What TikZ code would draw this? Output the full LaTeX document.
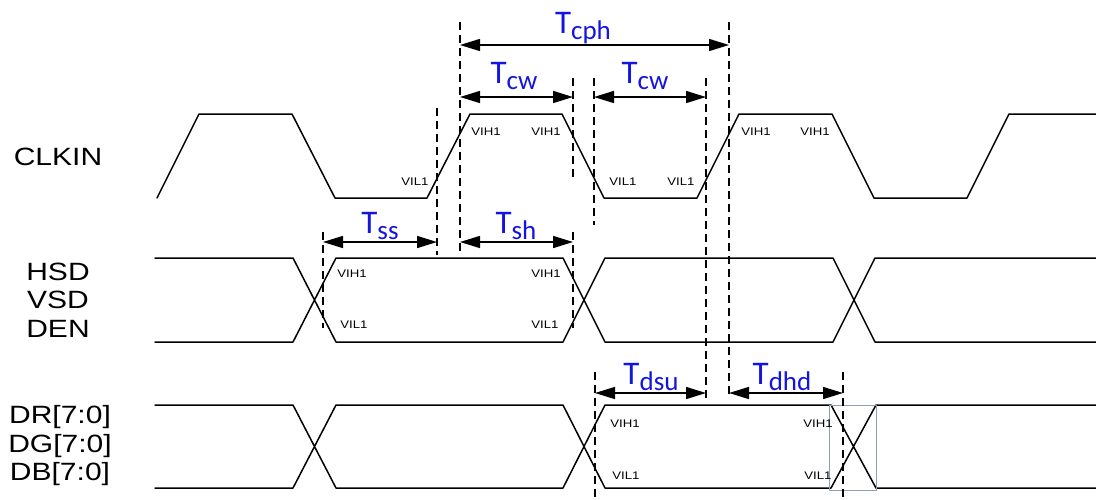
\documentclass[tikz,border=0pt]{standalone}
\usepackage{fontspec}
\setmainfont{Liberation Sans}[FakeStretch=1.2]
\newfontfamily\tfont{Carlito}
\usetikzlibrary{arrows.meta}
\definecolor{tblue}{RGB}{20,20,225}
\definecolor{boxgray}{RGB}{140,160,180}
\newcommand{\Tlab}[1]{{\fontsize{33}{33}\selectfont T}\raisebox{-6pt}{\fontsize{27}{27}\selectfont #1}}
\begin{document}
\begin{tikzpicture}[x=1pt, y=-1pt, line join=round, line cap=round, >={Triangle[length=20pt,width=12pt]}]
	\tikzset{wave/.style={line width=1.5pt}, guide/.style={line width=1.3pt, line cap=butt, dash pattern=on 8pt off 5pt}, dim/.style={<->, line width=1.5pt}, sig/.style={anchor=base, inner sep=0pt, font=\fontsize{25}{25}\selectfont}, lvl/.style={anchor=base, inner sep=0pt, font=\fontsize{11}{11}\selectfont}, tlab/.style={anchor=base, inner sep=0pt, text=tblue, font=\tfont}}
	\useasboundingbox (0,0) rectangle (1096,499);
	\def\ch{114}\def\cl{198}\def\sh{258}\def\sl{342}\def\dh{405}\def\dl{488}
	% signal names
	\node[sig] (clk) at (58,165) {CLKIN};
	\node[sig] (hsd) at (58,280) {HSD};
	\node[sig] (vsd) at (58,308) {VSD};
	\node[sig] (den) at (58,337) {DEN};
	\node[sig] (dr) at (60,423) {DR[7:0]};
	\node[sig] (dg) at (60,452) {DG[7:0]};
	\node[sig] (db) at (60,480) {DB[7:0]};
	% waveforms
	\draw[wave] (157,\cl)--(199,\ch)--(292,\ch)--(335,\cl)--(427,\cl)--(470,\ch)--(562,\ch)--(604,\cl)--(697,\cl)--(739,\ch)--(832,\ch)--(874,\cl)--(967,\cl)--(1009,\ch)--(1096,\ch);
	\draw[wave] (155,\sh)--(293,\sh)--(336,\sl)--(563,\sl)--(605,\sh)--(833,\sh)--(875,\sl)--(1096,\sl)
		(155,\sl)--(293,\sl)--(336,\sh)--(563,\sh)--(605,\sl)--(833,\sl)--(875,\sh)--(1096,\sh);
	\draw[wave] (155,\dh)--(293,\dh)--(336,\dl)--(563,\dl)--(605,\dh)--(831,\dh)--(876,\dl)--(1096,\dl)
		(155,\dl)--(293,\dl)--(336,\dh)--(563,\dh)--(605,\dl)--(831,\dl)--(876,\dh)--(1096,\dh);
	\draw[boxgray, line width=0.8pt] (829,\dh) rectangle (876,490);
	% dashed guides
	\foreach \x/\a/\b in {437/108/255, 460/22/252, 573/78/180, 573/232/328, 594/78/225, 706/78/401, 729/22/396, 323/232/328, 595/372/497, 843/372/497}
		\draw[guide] (\x,\a)--(\x,\b);
	% timing arrows
	\foreach \n/\xa/\xb/\y in {cph/460/729/45, cwa/460/573/97, cwb/594/706/97, ss/323/437/242, sh/460/573/242, dsu/595/706/393, dhd/729/843/393}{
		\coordinate (\n-l) at (\xa,\y); \coordinate (\n-r) at (\xb,\y);
		\draw[dim] (\n-l)--(\n-r);
	}
	\node[tlab] (tcph) at (583,33) {\Tlab{cph}};
	\node[tlab] (tcwa) at (514,83) {\Tlab{cw}};
	\node[tlab] (tcwb) at (645,83) {\Tlab{cw}};
	\node[tlab] (tss) at (380,233) {\Tlab{ss}};
	\node[tlab] (tsh) at (516,233) {\Tlab{sh}};
	\node[tlab] (tdsu) at (651,384) {\Tlab{dsu}};
	\node[tlab] (tdhd) at (782,384) {\Tlab{dhd}};
	% input levels
	\foreach \x/\y/\t [count=\i] in {415/185/VIL1, 486/135/VIH1, 546/135/VIH1, 623/185/VIL1, 681/185/VIL1, 756/135/VIH1, 815/135/VIH1, 352/277/VIH1, 354/328/VIL1, 546/277/VIH1, 545/328/VIL1, 625/427/VIH1, 626/479/VIL1, 818/427/VIH1, 818/479/VIL1}
		\node[lvl] (lv\i) at (\x,\y) {\t};
\end{tikzpicture}
\end{document}
